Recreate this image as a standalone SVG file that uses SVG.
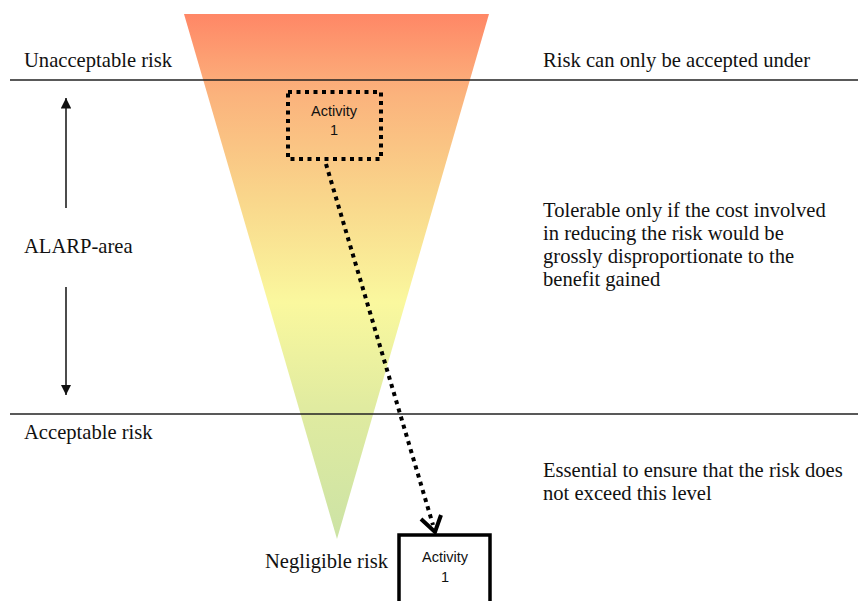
<svg xmlns="http://www.w3.org/2000/svg" width="858" height="601" viewBox="0 0 858 601">
  <style>
    .lbl { font-family: "Liberation Serif", "Times New Roman", serif; font-size: 20.6px; fill: #111; }
    .act { font-family: "Liberation Sans", Arial, sans-serif; font-size: 14.5px; fill: #111; text-anchor: middle; }
    .rule { stroke: #222; stroke-width: 1.3; }
    .vline { stroke: #111; stroke-width: 1.5; }
  </style>
  <defs>
    <linearGradient id="riskGrad" gradientUnits="userSpaceOnUse" x1="0" y1="14" x2="0" y2="539">
      <stop offset="0" stop-color="#FF8766"/>
      <stop offset="0.15" stop-color="#FBB27C"/>
      <stop offset="0.35" stop-color="#F9D68B"/>
      <stop offset="0.55" stop-color="#FAF89E"/>
      <stop offset="0.75" stop-color="#E0EBA0"/>
      <stop offset="1" stop-color="#CCE3A5"/>
    </linearGradient>
    <marker id="solidHead" viewBox="0 0 10 10" refX="10" refY="5" markerWidth="7" markerHeight="7" markerUnits="strokeWidth" orient="auto">
      <path d="M0,0 L10,5 L0,10 Z" fill="#111"/>
    </marker>
  </defs>

  <!-- risk funnel -->
  <g id="funnel">
    <polygon points="184,14 489,14 337,539" fill="url(#riskGrad)"/>
  </g>

  <!-- boundary rules -->
  <g id="rules">
    <line class="rule" x1="10" y1="80" x2="858" y2="80"/>
    <line class="rule" x1="10" y1="414" x2="858" y2="414"/>
  </g>

  <!-- labels -->
  <g id="labels">
    <text class="lbl" x="24" y="67">Unacceptable risk</text>
    <text class="lbl" x="543" y="67">Risk can only be accepted under</text>
    <text class="lbl" x="24" y="253">ALARP-area</text>
    <text class="lbl" x="24" y="439">Acceptable risk</text>
    <text class="lbl" x="265" y="568">Negligible risk</text>
    <text class="lbl" x="543" y="217">Tolerable only if the cost involved</text>
    <text class="lbl" x="543" y="240">in reducing the risk would be</text>
    <text class="lbl" x="543" y="263">grossly disproportionate to the</text>
    <text class="lbl" x="543" y="286">benefit gained</text>
    <text class="lbl" x="543" y="477">Essential to ensure that the risk does</text>
    <text class="lbl" x="543" y="500">not exceed this level</text>
  </g>

  <!-- connectors -->
  <g id="connectors">
    <line class="vline" x1="66" y1="208" x2="66" y2="98" marker-end="url(#solidHead)"/>
    <line class="vline" x1="66" y1="287" x2="66" y2="395" marker-end="url(#solidHead)"/>
    <line x1="326" y1="164" x2="433" y2="525" stroke="#000" stroke-width="4" stroke-dasharray="4 4.5"/>
    <polyline points="421,519 435,532 441,515" fill="none" stroke="#000" stroke-width="4" stroke-linejoin="miter"/>
  </g>

  <!-- activity, current position -->
  <g id="activity-current">
    <rect x="288" y="92" width="93" height="67" fill="none" stroke="#000" stroke-width="4" stroke-dasharray="4 4.5"/>
    <text class="act" x="334" y="116">Activity</text>
    <text class="act" x="334" y="135">1</text>
  </g>

  <!-- activity, reduced position -->
  <g id="activity-reduced">
    <rect x="399" y="535" width="91" height="80" fill="#fff" stroke="#000" stroke-width="3.5"/>
    <text class="act" x="445" y="562">Activity</text>
    <text class="act" x="445" y="582">1</text>
  </g>
</svg>
